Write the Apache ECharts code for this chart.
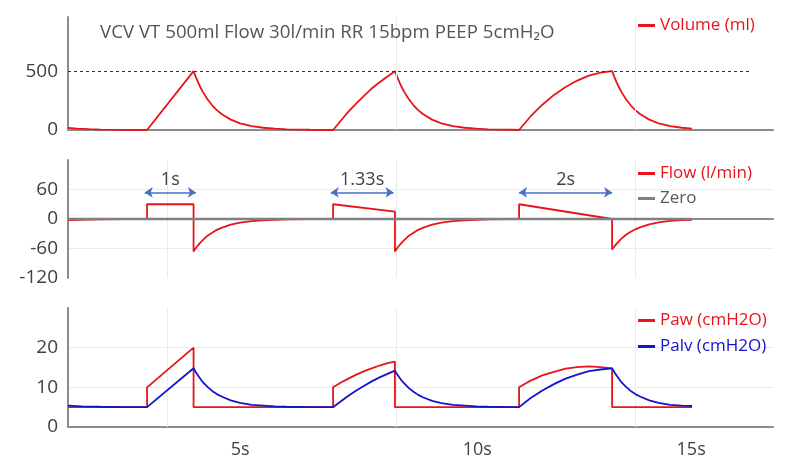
<!DOCTYPE html>
<html>
<head>
<meta charset="utf-8">
<script src="https://cdn.jsdelivr.net/npm/echarts@6/dist/echarts.min.js"></script>
<style>
  html, body { margin: 0; padding: 0; background: #fff; }
  #chart { width: 800px; height: 471px; }
</style>
</head>
<body>
<div id="chart"></div>
<script>
// time axis (seconds)
const timeTicks = [5, 10.1, 14.7]
const timeTickLabels = ['5s', '10s', '15s']
const gridTimes = [3.43, 8.35, 13.49]

// inspiration time markers
const arrowSpans = [[2.95, 4.05], [6.95, 8.3], [11, 13]]
const arrowLabels = ['1s', '1.33s', '2s']
const arrowLevel = 54

const volumeTarget = 500
const targetEnd = 16

// [t, ml]
const volumeData = [
  [1.3, 18], [1.5, 12], [1.75, 7], [2, 4], [2.5, 1], [3, 0],
  [4, 500],
  [4.05, 449], [4.1, 402], [4.15, 361], [4.2, 324], [4.3, 261], [4.4, 210], [4.5, 169], [4.6, 136], [4.8, 88],
  [5, 57], [5.25, 33], [5.5, 19], [5.75, 11], [6, 6], [6.5, 2], [7, 0],
  [7.17, 81], [7.33, 156], [7.5, 227], [7.67, 292], [7.83, 352], [8, 406], [8.17, 455], [8.33, 500],
  [8.38, 449], [8.43, 402], [8.48, 361], [8.53, 324], [8.63, 261], [8.73, 210], [8.83, 169], [8.93, 136], [9.13, 88],
  [9.33, 57], [9.58, 33], [9.83, 19], [10.08, 11], [10.33, 6], [10.83, 2], [11, 0],
  [11.25, 117], [11.5, 215], [11.75, 298], [12, 365], [12.25, 420], [12.5, 462], [12.75, 487], [13, 500],
  [13.05, 449], [13.1, 402], [13.15, 361], [13.2, 324], [13.3, 261], [13.4, 210], [13.5, 169], [13.6, 136], [13.8, 88],
  [14, 57], [14.25, 33], [14.5, 19], [14.72, 12]
]

// [t, l/min]
const flowData = [
  [1.3, -2], [1.5, -1.5], [1.75, -1], [2, -0.5], [2.5, 0], [3, 0],
  [3, 30], [4, 30], [4, -66],
  [4.05, -59], [4.1, -53], [4.15, -47.6], [4.2, -43], [4.3, -34], [4.4, -28], [4.5, -22], [4.6, -18], [4.8, -11.6],
  [5, -7.5], [5.25, -4.4], [5.5, -2.5], [5.75, -1.5], [6, -0.8], [6.5, -0.3], [7, 0],
  [7, 30], [8.33, 15], [8.33, -66],
  [8.38, -59], [8.43, -53], [8.48, -47.6], [8.53, -43], [8.63, -34], [8.73, -28], [8.83, -22], [8.93, -18], [9.13, -11.6],
  [9.33, -7.5], [9.58, -4.4], [9.83, -2.5], [10.08, -1.5], [10.33, -0.8], [10.83, -0.3], [11, 0],
  [11, 30], [13, 0], [13, -62],
  [13.05, -55.6], [13.1, -50], [13.15, -44.8], [13.2, -40], [13.3, -32], [13.4, -26], [13.5, -21], [13.6, -17], [13.8, -11],
  [14, -7], [14.25, -4], [14.5, -2.4], [14.72, -1.5]
]

const zeroData = [[1.3, 0], [14.72, 0]]

// [t, cmH2O]
const pawData = [
  [1.3, 5], [3, 5], [3, 10], [4, 20], [4, 5], [7, 5],
  [7, 10], [7.17, 11.2], [7.33, 12.2], [7.5, 13.2], [7.67, 14.1], [7.83, 14.8], [8, 15.5], [8.17, 16.1], [8.33, 16.5],
  [8.33, 5], [11, 5],
  [11, 10], [11.25, 11.7], [11.5, 13], [11.75, 13.9], [12, 14.7], [12.25, 15.1], [12.5, 15.3], [12.75, 15.1], [13, 14.8],
  [13, 5], [14.72, 5]
]

const palvData = [
  [1.3, 5.4], [1.6, 5.2], [2, 5.1], [2.5, 5], [3, 5],
  [4, 14.8],
  [4.05, 13.8], [4.1, 12.9], [4.15, 12.1], [4.2, 11.3], [4.3, 10.1], [4.4, 9.1], [4.5, 8.3], [4.6, 7.7], [4.8, 6.7],
  [5, 6.1], [5.25, 5.6], [5.5, 5.4], [5.75, 5.2], [6, 5.1], [6.5, 5], [7, 5],
  [7.17, 6.5], [7.33, 7.9], [7.5, 9.2], [7.67, 10.4], [7.83, 11.5], [8, 12.5], [8.17, 13.4], [8.33, 14.2],
  [8.38, 13.25], [8.43, 12.4], [8.48, 11.6], [8.53, 11], [8.63, 9.8], [8.73, 8.9], [8.83, 8.1], [8.93, 7.5], [9.13, 6.6],
  [9.33, 6], [9.58, 5.6], [9.83, 5.4], [10.08, 5.2], [10.33, 5.1], [10.83, 5], [11, 5],
  [11.25, 7.3], [11.5, 9.2], [11.75, 10.8], [12, 12.2], [12.25, 13.2], [12.5, 14.1], [12.75, 14.5], [13, 14.8],
  [13.05, 13.8], [13.1, 12.9], [13.15, 12.1], [13.2, 11.3], [13.3, 10.1], [13.4, 9.1], [13.5, 8.3], [13.6, 7.7], [13.8, 6.7],
  [14, 6.1], [14.25, 5.6], [14.5, 5.4], [14.72, 5.3]
]

const RED = '#e8141b'
const BLUE = '#1414c8'
const GREY = '#808080'
const FONT = 'Open Sans'

let mycharts = echarts.init(document.getElementById('chart'))

const axisLine = { show: true, lineStyle: { color: '#8c8c8c', width: 2 } }
const gridLine = { color: '#ebebeb', width: 1, type: 'solid' }

function xAxisFor(i) {
  return {
    type: 'value',
    gridIndex: i,
    min: 1.3,
    max: 16.46,
    axisLine: axisLine,
    axisTick: { show: false },
    splitLine: { show: false },
    axisLabel: i < 2 ? { show: false } : {
      customValues: timeTicks,
      formatter: v => timeTickLabels[timeTicks.indexOf(v)],
      color: '#404040',
      fontSize: 18,
      fontFamily: FONT,
      margin: 14,
    },
  }
}

function yAxisFor(i, min, max, interval, split) {
  return {
    type: 'value',
    gridIndex: i,
    min: min,
    max: max,
    interval: interval,
    axisLine: axisLine,
    axisTick: { show: false },
    splitLine: { show: split, showMaxLine: false, showMinLine: false, lineStyle: gridLine },
    axisLabel: {
      showMaxLabel: false,
      color: '#404040',
      fontSize: 19,
      fontFamily: FONT,
      margin: 10,
    },
  }
}

function legendFor(top, items, gap) {
  return {
    top: top,
    left: 633,
    orient: 'vertical',
    icon: 'rect',
    itemWidth: 17,
    itemHeight: 3,
    itemGap: gap,
    selectedMode: false,
    textStyle: { fontSize: 17, fontFamily: FONT },
    data: items.map(it => ({ name: it[0], textStyle: { color: it[1] } })),
  }
}

const vGrid = t => ({ xAxis: t, lineStyle: gridLine })

mycharts.setOption({
  animation: false,
  title: {
    text: 'VCV VT 500ml Flow 30l/min RR 15bpm PEEP 5cmH₂O',
    left: 100,
    top: 23,
    padding: 0,
    textStyle: { color: '#555', fontSize: 18.7, fontWeight: 'normal', fontFamily: FONT },
  },
  legend: [
    legendFor(12, [['Volume (ml)', RED]], 8),
    legendFor(160, [['Flow (l/min)', RED], ['Zero', '#595959']], 8),
    legendFor(307, [['Paw (cmH2O)', RED], ['Palv (cmH2O)', BLUE]], 9),
  ],
  grid: [
    { left: 68, right: 27, top: 17, height: 113 },
    { left: 68, right: 27, top: 160, height: 118 },
    { left: 68, right: 27, top: 308, height: 119 },
  ],
  xAxis: [xAxisFor(0), xAxisFor(1), xAxisFor(2)],
  yAxis: [
    yAxisFor(0, 0, 960, 500, false),
    yAxisFor(1, -120, 120, 60, true),
    yAxisFor(2, 0, 30, 10, true),
  ],
  series: [
    {
      name: 'Volume (ml)',
      type: 'line',
      xAxisIndex: 0,
      yAxisIndex: 0,
      data: volumeData,
      showSymbol: false,
      lineStyle: { color: RED, width: 1.8 },
      itemStyle: { color: RED },
      markLine: {
        silent: true,
        symbol: 'none',
        label: { show: false },
        data: [
          ...gridTimes.slice(1).map(vGrid),
          [
            { coord: [1.3, volumeTarget], lineStyle: { color: '#333', width: 1, type: [3, 3] } },
            { coord: [targetEnd, volumeTarget] },
          ],
        ],
      },
    },
    {
      name: 'Flow (l/min)',
      type: 'line',
      xAxisIndex: 1,
      yAxisIndex: 1,
      data: flowData,
      showSymbol: false,
      lineStyle: { color: RED, width: 1.8 },
      itemStyle: { color: RED },
      markLine: {
        silent: true,
        symbol: ['arrow', 'arrow'],
        symbolSize: 8,
        lineStyle: { color: '#4472c4', width: 1.5, type: 'solid' },
        label: {
          show: true,
          position: 'middle',
          color: '#404040',
          fontSize: 18,
          fontFamily: FONT,
          distance: 4,
        },
        data: arrowSpans.map((s, i) => [
          { coord: [s[0], arrowLevel], label: { formatter: arrowLabels[i] } },
          { coord: [s[1], arrowLevel] },
        ]),
      },
    },
    {
      name: 'Zero',
      type: 'line',
      xAxisIndex: 1,
      yAxisIndex: 1,
      data: zeroData,
      showSymbol: false,
      lineStyle: { color: GREY, width: 2.5 },
      itemStyle: { color: GREY },
      markLine: {
        silent: true,
        symbol: 'none',
        z: 1,
        label: { show: false },
        data: gridTimes.map(vGrid),
      },
    },
    {
      name: 'Paw (cmH2O)',
      type: 'line',
      xAxisIndex: 2,
      yAxisIndex: 2,
      data: pawData,
      showSymbol: false,
      lineStyle: { color: RED, width: 1.8 },
      itemStyle: { color: RED },
      markLine: {
        silent: true,
        symbol: 'none',
        z: 1,
        label: { show: false },
        data: gridTimes.map(vGrid),
      },
    },
    {
      name: 'Palv (cmH2O)',
      type: 'line',
      xAxisIndex: 2,
      yAxisIndex: 2,
      data: palvData,
      showSymbol: false,
      lineStyle: { color: BLUE, width: 1.8 },
      itemStyle: { color: BLUE },
    },
  ],
})
</script>
</body>
</html>
